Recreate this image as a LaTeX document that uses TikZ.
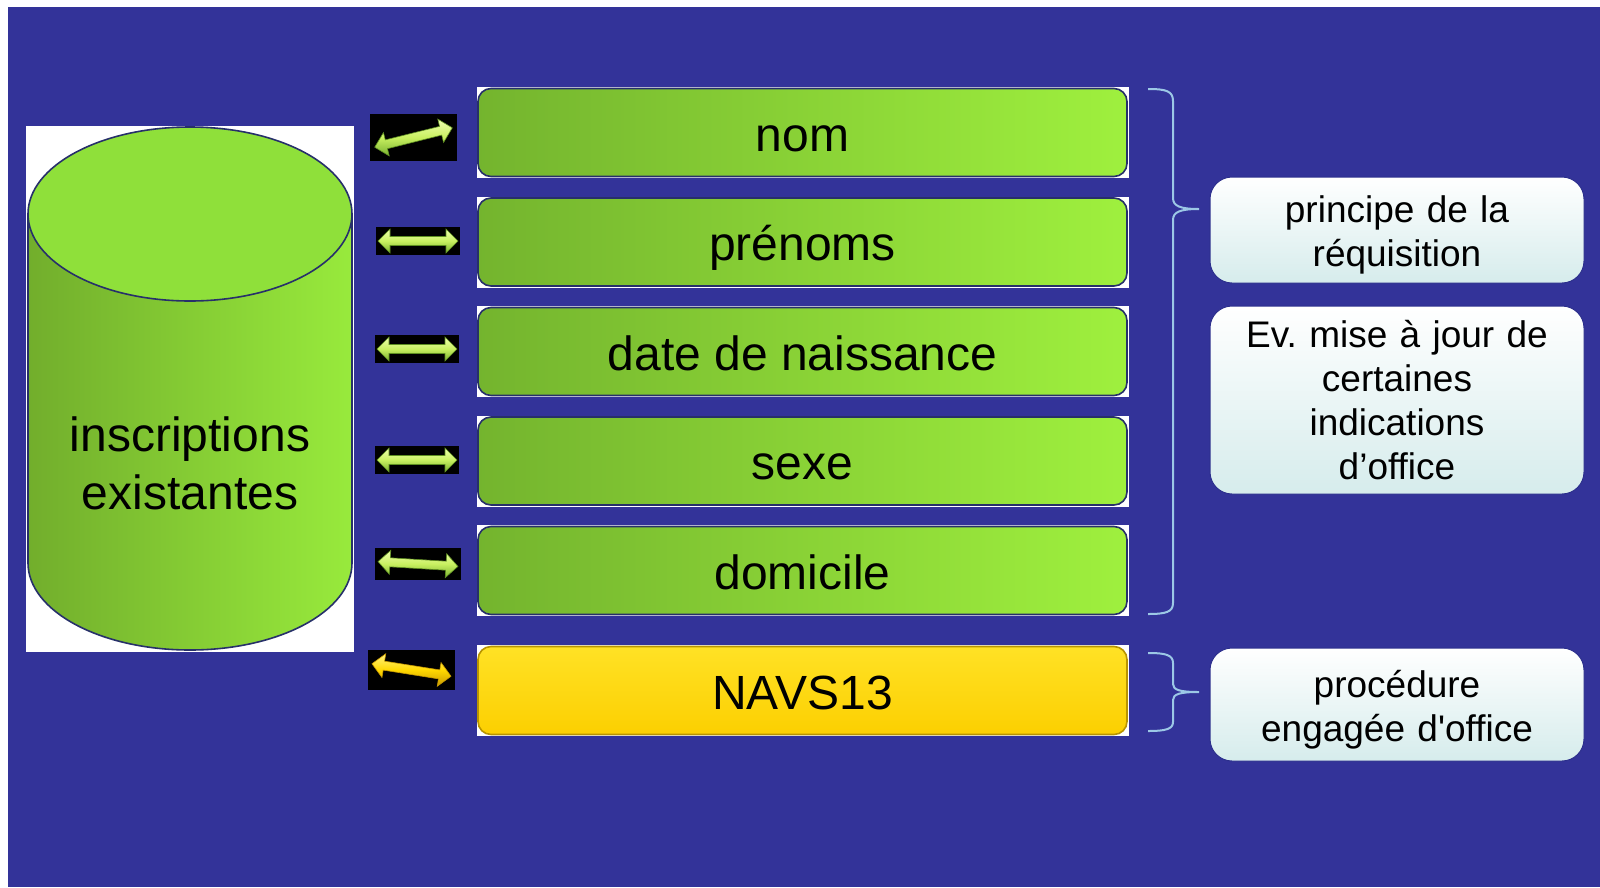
\documentclass[tikz,border=0pt]{standalone}
\usepackage{fontspec}
\setmainfont{Liberation Sans}
\usetikzlibrary{positioning,shapes.geometric}

\definecolor{bgblue}{HTML}{333399}
\definecolor{navy}{HTML}{27306A}
\definecolor{grnD}{HTML}{74B42E}
\definecolor{grnL}{HTML}{9FF03E}
\definecolor{yelL}{HTML}{FFE226}
\definecolor{yelD}{HTML}{FCCF00}
\definecolor{yelE}{HTML}{B89400}
\definecolor{cylD}{HTML}{72AE2C}
\definecolor{cylL}{HTML}{98EA3C}
\definecolor{cylT}{HTML}{8FE03A}
\definecolor{noteB}{HTML}{D6ECEC}
\definecolor{noteE}{HTML}{2B2E8C}
\definecolor{brc}{HTML}{9CC8E6}
\definecolor{arrL}{HTML}{F0FFB0}
\definecolor{arrM}{HTML}{C8F060}
\definecolor{arrD}{HTML}{78B030}
\definecolor{arrE}{HTML}{5E8F20}
\definecolor{yarrL}{HTML}{FFF280}
\definecolor{yarrM}{HTML}{FFD800}
\definecolor{yarrD}{HTML}{C89A00}

\tikzset{
  fldface/.style={draw=navy, line width=1.6pt, rounded corners=13pt, left color=grnD, right color=grnL},
  yelface/.style={draw=yelE, line width=1.6pt, rounded corners=13pt, top color=yelL, bottom color=yelD},
  arrface/.style={draw=arrE, line width=0.6pt, top color=arrL, bottom color=arrD, middle color=arrM},
  yarrface/.style={draw=yarrD, line width=0.6pt, top color=yarrL, bottom color=yarrD, middle color=yarrM},
  dbl/.pic={\draw[arrface] (-40,0) -- (-28,-12) -- (-28,-4.5) -- (28,-4.5) -- (28,-12) -- (40,0)
                -- (28,12) -- (28,4.5) -- (-28,4.5) -- (-28,12) -- cycle;}
}

\begin{document}
\frenchspacing
\begin{tikzpicture}
[x=1pt,y=-1pt,node distance=109.5pt,font=\fontsize{48}{58}\selectfont]
\tikzstyle{fld}=[rectangle, fill=white, minimum width=652pt, minimum height=91pt, inner sep=0pt,
  text height=37pt, text depth=0pt,
  path picture={\draw[fldface] ([shift={(1.5pt,-1.5pt)}]path picture bounding box.north west)
    rectangle ([shift={(-1.5pt,1.5pt)}]path picture bounding box.south east);}]
\tikzstyle{lnk}=[rectangle, fill=black, inner sep=0pt, minimum width=84pt, minimum height=28pt]
\tikzstyle{note}=[rectangle, rounded corners=22pt, draw=noteE, line width=1pt, top color=white,
  bottom color=noteB, minimum width=374pt, text width=350pt, align=center, inner sep=0pt,
  font=\fontsize{37}{44}\selectfont]
\tikzstyle{brace}=[draw=brc, line width=2pt]

\useasboundingbox (0,0) rectangle (1600,887);
\fill[white] (0,0) rectangle (1600,887);
\fill[bgblue] (8,7) rectangle (1600,887);

% base de donnees
\fill[white] (26,126) rectangle (354,652);
\draw[navy, line width=1.6pt, left color=cylD, right color=cylL]
  (28,214) -- (28,563) arc[start angle=180, end angle=360, x radius=162pt, y radius=87pt]
  -- (352,214) -- cycle;
\draw[navy, line width=1.6pt, fill=cylT] (190,214) ellipse [x radius=162pt, y radius=87pt];
\node[align=center] (db) at (190,463) {inscriptions\\existantes};

% champs
\node[fld] (fld_1) at (802.5,132.5) {nom};
\node[fld] (fld_2) [below of = fld_1] {prénoms};
\node[fld] (fld_3) [below of = fld_2] {date de naissance};
\node[fld] (fld_4) [below of = fld_3] {sexe};
\node[fld] (fld_5) [below of = fld_4] {domicile};
\node[fld, fldface/.style={yelface}] (fld_6) [below of = fld_5, node distance=120pt] {NAVS13};

% liens
\node[lnk, minimum width=87pt, minimum height=47pt] (lnk_1) at (413.5,137.5) {};
\node[lnk] (lnk_2) at (418,241) {};
\node[lnk] (lnk_3) at (417,349) {};
\node[lnk] (lnk_4) at (417,460) {};
\node[lnk, minimum width=86pt, minimum height=32pt] (lnk_5) at (418,564) {};
\node[lnk, minimum width=87pt, minimum height=40pt] (lnk_6) at (411.5,670) {};
\pic[rotate=14] at (lnk_1) {dbl};
\pic at (lnk_2) {dbl};
\pic at (lnk_3) {dbl};
\pic at (lnk_4) {dbl};
\pic[rotate=-3.5] at (lnk_5) {dbl};
\pic[rotate=-9, arrface/.style={yarrface}] at (lnk_6) {dbl};

% accolades
\path[brace] (1148,89) .. controls (1166,89) and (1173,91) .. (1173,101) -- (1173,198)
  .. controls (1173,206) and (1180,209) .. (1199,209)
  .. controls (1180,209) and (1173,212) .. (1173,220) -- (1173,603)
  .. controls (1173,612) and (1166,614) .. (1148,614);
\path[brace] (1148,653) .. controls (1166,653) and (1173,655) .. (1173,663) -- (1173,684)
  .. controls (1173,690) and (1180,692) .. (1199,692)
  .. controls (1180,692) and (1173,694) .. (1173,700) -- (1173,722)
  .. controls (1173,729) and (1166,731) .. (1148,731);

% remarques
\node[note, minimum height=106pt, text depth=42pt] (note_1) at (1397,230) {principe de la\\réquisition};
\node[note, minimum height=188pt] (note_2) at (1397,400) {Ev. mise à jour de\\certaines\\indications\\d’office};
\node[note, minimum height=113pt, text depth=42pt] (note_3) at (1397,704.5) {procédure\\engagée d\textquotesingle office};
\end{tikzpicture}
\end{document}
